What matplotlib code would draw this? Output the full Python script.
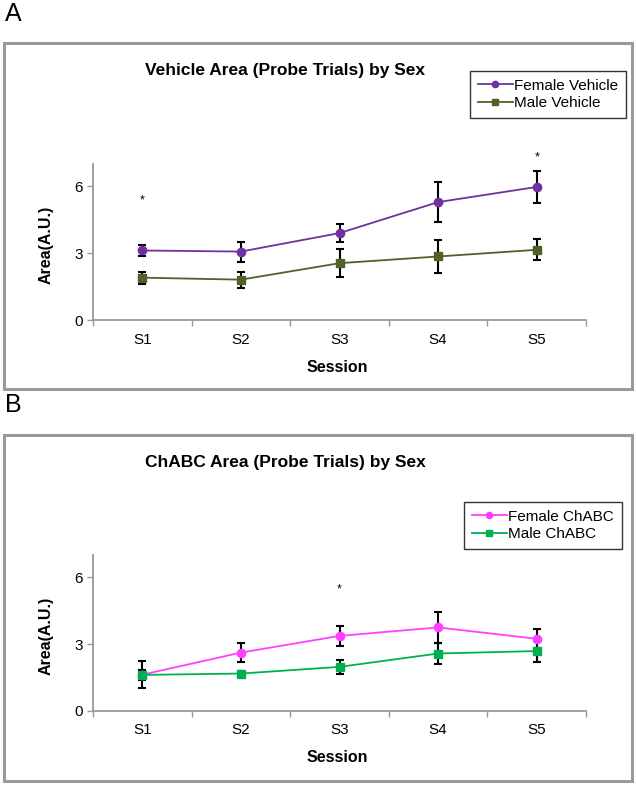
import matplotlib
matplotlib.use("Agg")
import matplotlib.pyplot as plt
from matplotlib.patches import Rectangle

plt.rcParams['font.family'] = ['Liberation Sans', 'DejaVu Sans']

sessions = ['S1', 'S2', 'S3', 'S4', 'S5']

veh_female = [3.12, 3.07, 3.90, 5.29, 5.97]
veh_female_err = [0.25, 0.45, 0.40, 0.88, 0.73]
veh_male = [1.90, 1.81, 2.55, 2.85, 3.15]
veh_male_err = [0.27, 0.36, 0.62, 0.74, 0.48]
veh_stars = [(0, 5.37), (4, 7.3)]

chabc_female = [1.63, 2.62, 3.37, 3.75, 3.24]
chabc_female_err = [0.62, 0.42, 0.46, 0.68, 0.46]
chabc_male = [1.62, 1.68, 1.98, 2.58, 2.69]
chabc_male_err = [0.22, 0.12, 0.33, 0.47, 0.47]
chabc_stars = [(2, 5.47)]

W, H = 636, 786
fig = plt.figure(figsize=(W / 100, H / 100), dpi=100)


def fx(px):
    return px / W


def fy(py):
    return 1 - py / H


def panel(top, bottom, ax_top, ax_bot, letter, letter_y, title, f, fe, m, me,
          labels, colors, stars, leg_xy):
    # grey frame around the panel
    fig.patches.append(Rectangle((fx(4), fy(bottom)), fx(628), (bottom - top) / H,
                                 transform=fig.transFigure, fill=False,
                                 edgecolor='#9a9a9a', linewidth=2.2))
    fig.text(fx(5), fy(letter_y), letter, fontsize=18, va='center', ha='left')
    fig.text(fx(145), fy(top + 27), title, fontsize=12.5, fontweight='bold',
             ha='left', va='center')

    ax = fig.add_axes([fx(93), fy(ax_bot), fx(586) - fx(93), (ax_bot - ax_top) / H])
    x = list(range(len(sessions)))
    ax.errorbar(x, f, yerr=fe, fmt='none', ecolor='black', elinewidth=1.5,
                capsize=3, capthick=1.5, zorder=3)
    ax.errorbar(x, m, yerr=me, fmt='none', ecolor='black', elinewidth=1.5,
                capsize=3, capthick=1.5, zorder=3)
    ax.plot(x, f, color=colors[0], marker='o', markersize=6, linewidth=1.3,
            label=labels[0], zorder=4)
    ax.plot(x, m, color=colors[1], marker='s', markersize=6, linewidth=1.3,
            label=labels[1], zorder=4)
    for sx, sy in stars:
        ax.text(sx, sy, '*', ha='center', va='center', fontsize=9, clip_on=False)

    ax.set_xlim(-0.5, 4.5)
    ax.set_ylim(0, 7)
    ax.set_yticks([0, 3, 6])
    ax.set_xticks(x)
    ax.set_xticklabels(sessions)
    ax.set_xticks([-0.5, 0.5, 1.5, 2.5, 3.5, 4.5], minor=True)
    ax.tick_params(axis='x', which='major', length=0, pad=9, labelsize=11)
    ax.tick_params(axis='x', which='minor', length=4, color='#999999', width=1)
    ax.tick_params(axis='y', length=4, color='#999999', width=1, labelsize=11)
    for s in ['top', 'right']:
        ax.spines[s].set_visible(False)
    for s in ['left', 'bottom']:
        ax.spines[s].set_color('#999999')
        ax.spines[s].set_linewidth(1.3)

    fig.text(fx(46), fy((ax_top + ax_bot) / 2 + 3), 'Area(A.U.)', rotation=90,
             fontsize=11.5, fontweight='bold', ha='center', va='center')
    fig.text(fx(337), fy(ax_bot + 47), 'Session', fontsize=11.5,
             fontweight='bold', ha='center', va='center')

    leg = ax.legend(loc='upper left', bbox_to_anchor=(fx(leg_xy[0]), fy(leg_xy[1])),
                    bbox_transform=fig.transFigure, borderaxespad=0, fancybox=False,
                    fontsize=11, handlelength=2.3, handletextpad=0.1,
                    labelspacing=0.22, borderpad=0.5, markerscale=0.75)
    leg.get_frame().set_edgecolor('black')
    leg.get_frame().set_linewidth(1.0)
    return ax


panel(43, 389, 164, 320, 'A', 14, 'Vehicle Area (Probe Trials) by Sex',
      veh_female, veh_female_err, veh_male, veh_male_err,
      ['Female Vehicle', 'Male Vehicle'], ['#7030A0', '#4F6228'],
      veh_stars, (470, 71))
panel(435, 781, 555, 711, 'B', 405, 'ChABC Area (Probe Trials) by Sex',
      chabc_female, chabc_female_err, chabc_male, chabc_male_err,
      ['Female ChABC', 'Male ChABC'], ['#FF40FF', '#00B050'],
      chabc_stars, (464, 502))

fig.savefig('out.png', dpi=100)
